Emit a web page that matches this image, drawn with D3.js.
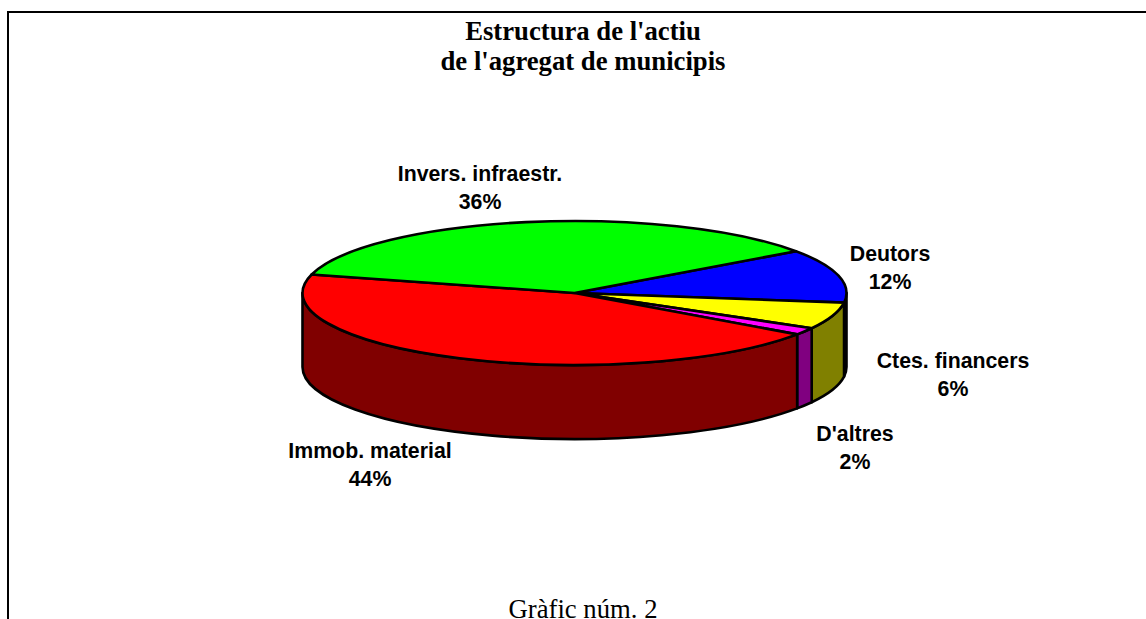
<!DOCTYPE html>
<meta charset="utf-8">
<script src="https://d3js.org/d3.v7.min.js"></script>
<style>
    html, body { margin: 0; background: #fff; overflow: hidden; }
    svg { display: block; }
    text.title { font-family: "Liberation Serif"; font-weight: bold; font-size: 26.7px; }
    text.label { font-family: "Liberation Sans"; font-weight: bold; font-size: 21.3px; }
    text.foot { font-family: "Liberation Serif"; font-size: 26.7px; }
</style>
<body>
<div id="my_dataviz"></div>
<script>
    var categories = ["Deutors", "Ctes. financers", "D'altres", "Immob. material", "Invers. infraestr."];
    // the labels show them rounded
    var values = [12, 6, 1.6, 44.4, 36];
    var topColors = ["#0000ff", "#ffff00", "#ff00ff", "#ff0000", "#00ff00"];
    var sideColors = ["#000080", "#808000", "#800080", "#800000", "#008000"];
    var titleLines = ["Estructura de l'actiu", "de l'agregat de municipis"];
    var footer = "Gràfic núm. 2";

    var width = 1146, height = 619;
    var cx = 574.5, cy = 293, rx = 272, ry = 72, depth = 74;
    var startAngle = 54.5 * Math.PI / 180;

    // x,y of a point on the rim, angle measured clockwise from the top
    function px(a) { return cx + rx * Math.sin(a); }
    function py(a) { return cy - ry * Math.cos(a); }

    var svg = d3.select("#my_dataviz")
        .append("svg")
        .attr("width", width)
        .attr("height", height);

    // outer frame, only left and top show, the rest is cut off by the page
    svg.append("path")
        .attr("d", "M8," + height + "V12H" + width)
        .attr("fill", "none")
        .attr("stroke", "#000")
        .attr("stroke-width", 2);

    var pie = d3.pie()
        .sort(null)
        .startAngle(startAngle)
        .endAngle(startAngle + 2 * Math.PI);

    var slices = pie(values);

    // the side wall only shows on the front half of the ellipse
    function wallPath(d) {
        var a0 = Math.max(d.startAngle, Math.PI / 2),
            a1 = Math.min(d.endAngle, 3 * Math.PI / 2);
        if (a1 <= a0) return null;
        return "M" + px(a0) + "," + py(a0) +
            "A" + rx + "," + ry + " 0 0 1 " + px(a1) + "," + py(a1) +
            "v" + depth +
            "A" + rx + "," + ry + " 0 0 0 " + px(a0) + "," + (py(a0) + depth) +
            "Z";
    }

    svg.append("g").selectAll("path")
        .data(slices.filter(function(d) { return wallPath(d) !== null; }))
        .enter()
        .append("path")
        .attr("d", wallPath)
        .attr("fill", function(d) { return sideColors[d.index]; })
        .attr("stroke", "#000")
        .attr("stroke-width", 2.6)
        .attr("stroke-linejoin", "round");

    // top face: a circular arc squashed into the ellipse
    var arc = d3.arc().innerRadius(0).outerRadius(rx);

    svg.append("g")
        .attr("transform", "translate(" + cx + "," + cy + ") scale(1," + (ry / rx) + ")")
        .selectAll("path")
        .data(slices)
        .enter()
        .append("path")
        .attr("d", arc)
        .attr("fill", function(d) { return topColors[d.index]; })
        .attr("stroke", "#000")
        .attr("stroke-width", 2.6)
        .attr("stroke-linejoin", "round")
        .attr("vector-effect", "non-scaling-stroke");

    // slice labels
    var labelX = [890, 953, 855, 370, 480];
    var labelY = [261, 368, 441, 458, 181];

    var labels = svg.append("g").selectAll("text")
        .data(categories)
        .enter()
        .append("text")
        .attr("class", "label")
        .attr("text-anchor", "middle")
        .attr("y", function(d, i) { return labelY[i]; });
    labels.append("tspan")
        .attr("x", function(d, i) { return labelX[i]; })
        .text(function(d) { return d; });
    labels.append("tspan")
        .attr("x", function(d, i) { return labelX[i]; })
        .attr("dy", 28)
        .text(function(d, i) { return Math.round(values[i]) + "%"; });

    // title
    svg.selectAll("text.title")
        .data(titleLines)
        .enter()
        .append("text")
        .attr("class", "title")
        .attr("text-anchor", "middle")
        .attr("x", 583)
        .attr("y", function(d, i) { return 40 + i * 30; })
        .text(function(d) { return d; });

    svg.append("text")
        .attr("class", "foot")
        .attr("text-anchor", "middle")
        .attr("x", 583)
        .attr("y", 618)
        .text(footer);
</script>
</body>
